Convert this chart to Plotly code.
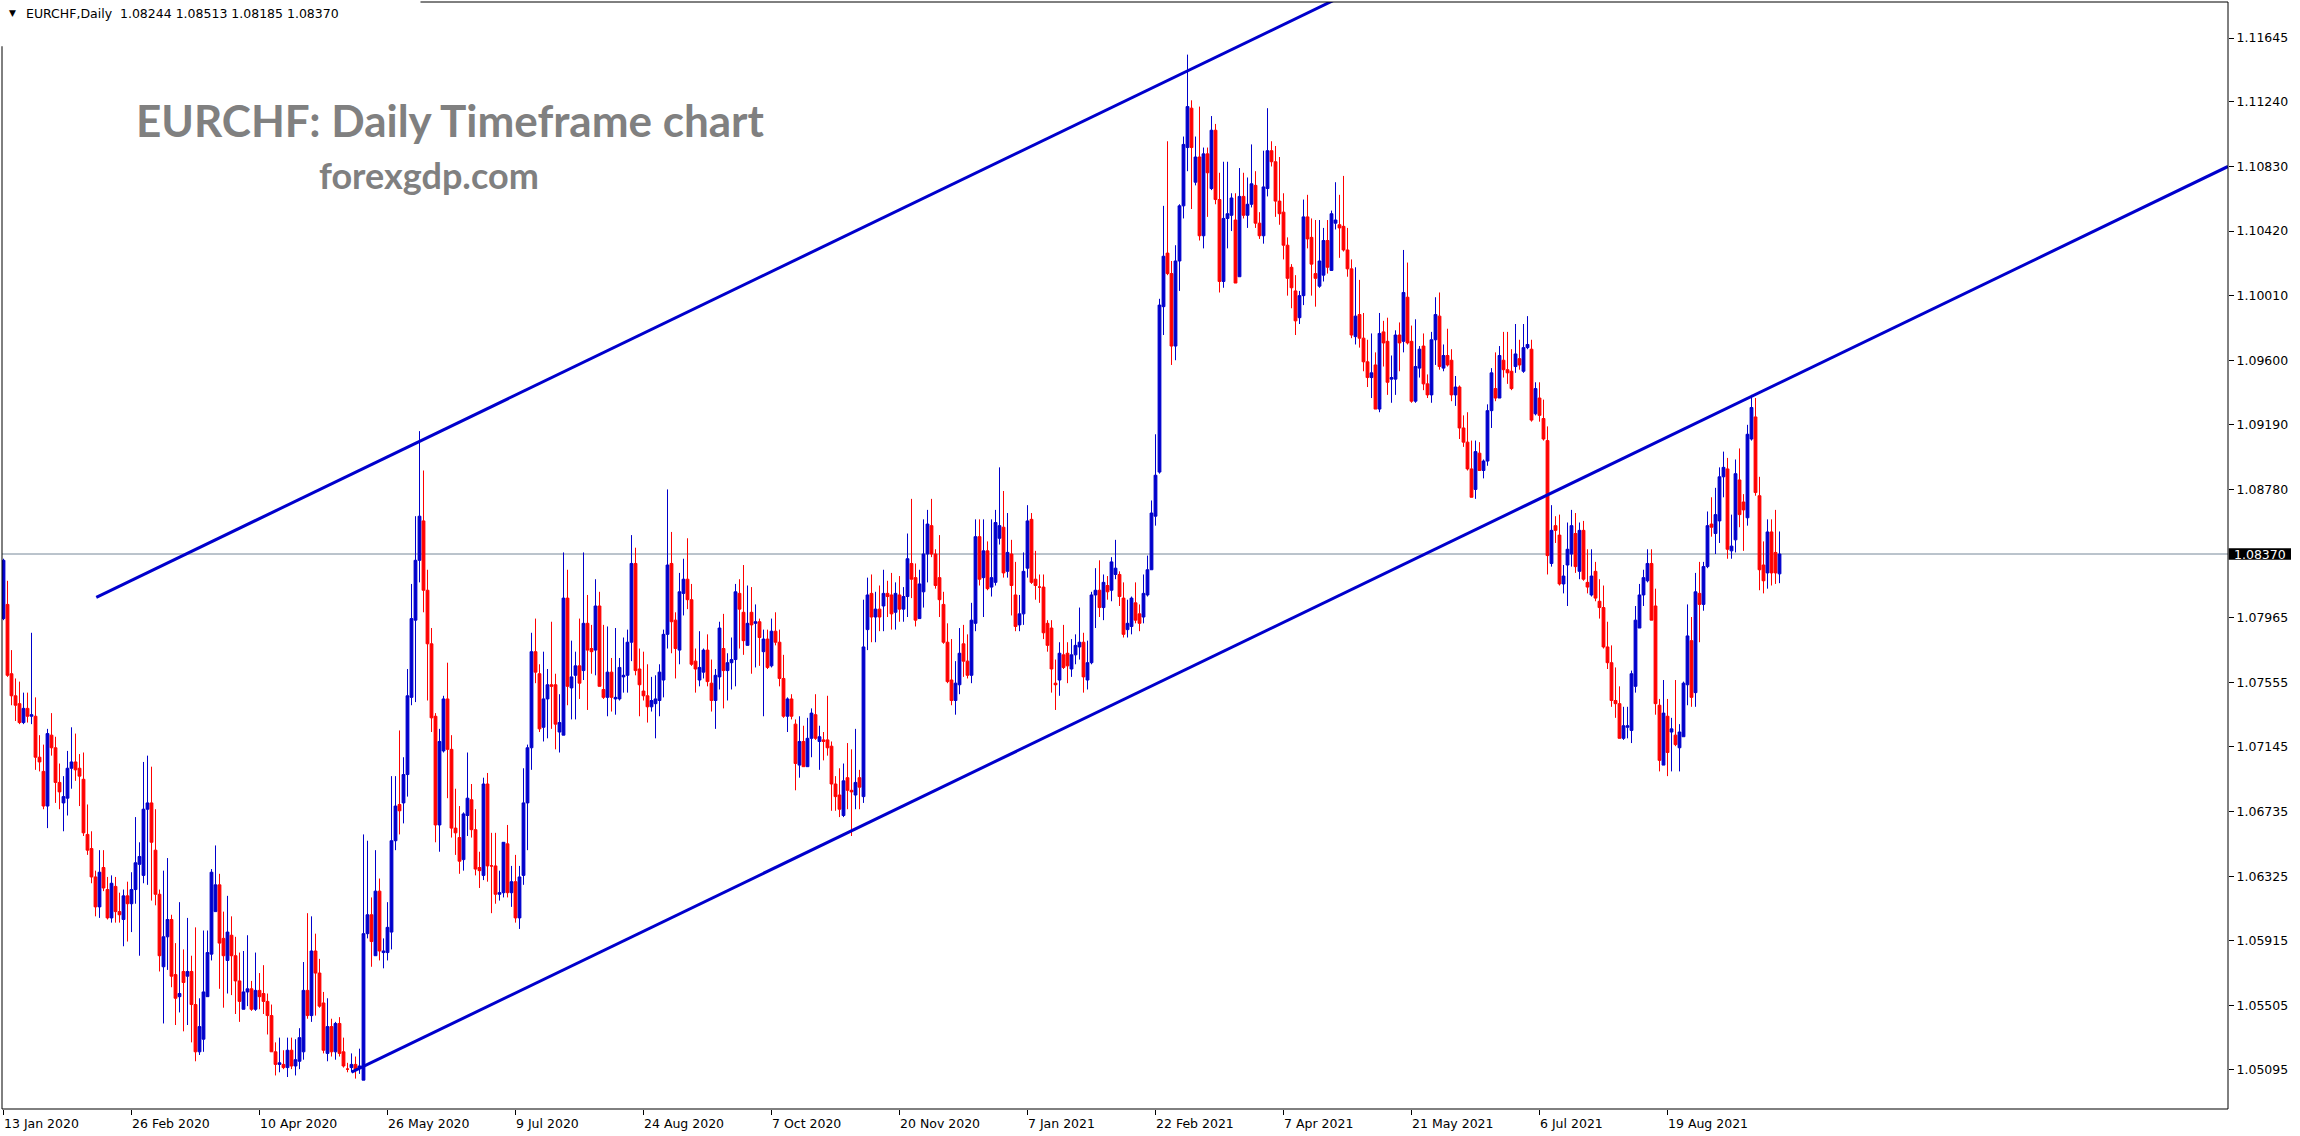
import plotly.graph_objects as go
import pandas as pd

# ---------------- data ----------------
symbol_header = "EURCHF,Daily  1.08244 1.08513 1.08185 1.08370"
title_text = "EURCHF: Daily Timeframe chart"
site_text = "forexgdp.com"
last_price = 1.08370

dates = pd.bdate_range("2020-01-13", "2021-09-28", freq="C",
                       holidays=["2020-12-25", "2021-01-01"])

opens = [
    1.0796, 1.0805, 1.0761, 1.0747, 1.0742, 1.0730, 1.0739, 1.0734, 1.0734, 1.0708,
    1.0699, 1.0677, 1.0722, 1.0714, 1.0692, 1.0679, 1.0682, 1.0701, 1.0705, 1.0701,
    1.0694, 1.0659, 1.0650, 1.0632, 1.0613, 1.0638, 1.0624, 1.0606, 1.0626, 1.0610,
    1.0605, 1.0620, 1.0615, 1.0624, 1.0640, 1.0633, 1.0675, 1.0679, 1.0649, 1.0621,
    1.0575, 1.0594, 1.0605, 1.0570, 1.0556, 1.0572, 1.0569, 1.0572, 1.0551, 1.0521,
    1.0529, 1.0556, 1.0583, 1.0610, 1.0627, 1.0593, 1.0579, 1.0595, 1.0582, 1.0566,
    1.0548, 1.0559, 1.0561, 1.0548, 1.0560, 1.0558, 1.0553, 1.0544, 1.0521, 1.0513,
    1.0513, 1.0511, 1.0522, 1.0512, 1.0515, 1.0521, 1.0560, 1.0544, 1.0585, 1.0571,
    1.0552, 1.0520, 1.0537, 1.0521, 1.0539, 1.0521, 1.0510, 1.0511, 1.0513, 1.0511,
    1.0503, 1.0596, 1.0608, 1.0582, 1.0623, 1.0584, 1.0584, 1.0597, 1.0655, 1.0678,
    1.0679, 1.0697, 1.0746, 1.0795, 1.0833, 1.0858, 1.0814, 1.0780, 1.0734, 1.0665,
    1.0712, 1.0745, 1.0713, 1.0663, 1.0657, 1.0643, 1.0671, 1.0681, 1.0662, 1.0638,
    1.0633, 1.0691, 1.0639, 1.0639, 1.0621, 1.0622, 1.0653, 1.0622, 1.0629, 1.0606,
    1.0633, 1.0679, 1.0714, 1.0775, 1.0761, 1.0727, 1.0745, 1.0754, 1.0754, 1.0724,
    1.0722, 1.0809, 1.0752, 1.0760, 1.0766, 1.0763, 1.0793, 1.0777, 1.0776, 1.0804,
    1.0751, 1.0746, 1.0762, 1.0745, 1.0745, 1.0759, 1.0760, 1.0781, 1.0831, 1.0764,
    1.0750, 1.0747, 1.0740, 1.0742, 1.0744, 1.0757, 1.0786, 1.0831, 1.0795, 1.0776,
    1.0812, 1.0821, 1.0808, 1.0769, 1.0757, 1.0762, 1.0776, 1.0755, 1.0744, 1.0759,
    1.0777, 1.0763, 1.0768, 1.0770, 1.0812, 1.0800, 1.0779, 1.0800, 1.0793, 1.0794,
    1.0775, 1.0783, 1.0766, 1.0788, 1.0781, 1.0758, 1.0734, 1.0745, 1.0729, 1.0703,
    1.0718, 1.0702, 1.0720, 1.0735, 1.0718, 1.0719, 1.0719, 1.0715, 1.0691, 1.0684,
    1.0671, 1.0695, 1.0687, 1.0684, 1.0695, 1.0683, 1.0789, 1.0812, 1.0797, 1.0802,
    1.0804, 1.0812, 1.0811, 1.0800, 1.0811, 1.0802, 1.0810, 1.0831, 1.0822, 1.0796,
    1.0813, 1.0837, 1.0855, 1.0837, 1.0822, 1.0805, 1.0781, 1.0757, 1.0744, 1.0754,
    1.0780, 1.0769, 1.0760, 1.0793, 1.0848, 1.0822, 1.0839, 1.0816, 1.0819, 1.0847,
    1.0854, 1.0826, 1.0837, 1.0811, 1.0792, 1.0799, 1.0828, 1.0859, 1.0821, 1.0816,
    1.0816, 1.0793, 1.0790, 1.0755, 1.0757, 1.0773, 1.0774, 1.0764, 1.0773, 1.0778,
    1.0781, 1.0757, 1.0768, 1.0811, 1.0814, 1.0803, 1.0817, 1.0814, 1.0824, 1.0824,
    1.0809, 1.0789, 1.0791, 1.0806, 1.0799, 1.0797, 1.0811, 1.0827, 1.0861, 1.0889,
    1.0994, 1.1028, 1.1015, 1.0969, 1.1023, 1.1058, 1.1095, 1.1120, 1.1073, 1.1089,
    1.1039, 1.1091, 1.1069, 1.1106, 1.1062, 1.1010, 1.1050, 1.1052, 1.1049, 1.1013,
    1.1064, 1.1052, 1.1059, 1.1071, 1.1047, 1.1039, 1.1069, 1.1093, 1.1086, 1.1061,
    1.1054, 1.1033, 1.1019, 1.1004, 1.0987, 1.1001, 1.1051, 1.1038, 1.1015, 1.1007,
    1.1014, 1.1036, 1.1017, 1.1047, 1.1046, 1.1045, 1.1030, 1.1018, 1.0975, 1.0989,
    1.0974, 1.0959, 1.0949, 1.0957, 1.0929, 1.0978, 1.0972, 1.0948, 1.0948, 1.0976,
    1.0972, 1.1000, 1.0972, 1.0934, 1.0955, 1.0969, 1.0945, 1.0938, 1.0973, 1.0988,
    1.0955, 1.0963, 1.0960, 1.0938, 1.0943, 1.0917, 1.0908, 1.0891, 1.0878, 1.0901,
    1.0890, 1.0896, 1.0928, 1.0942, 1.0936, 1.0960, 1.0954, 1.0953, 1.0956, 1.0961,
    1.0953, 1.0968, 1.0967, 1.0926, 1.0936, 1.0923, 1.0909, 1.0831, 1.0855, 1.0849,
    1.0818, 1.0830, 1.0837, 1.0850, 1.0826, 1.0852, 1.0819, 1.0811, 1.0826, 1.0807,
    1.0803, 1.0778, 1.0768, 1.0744, 1.0742, 1.0720, 1.0727, 1.0725, 1.0753, 1.0790,
    1.0811, 1.0820, 1.0831, 1.0804, 1.0741, 1.0703, 1.0734, 1.0724, 1.0722, 1.0714,
    1.0721, 1.0754, 1.0782, 1.0749, 1.0812, 1.0805, 1.0829, 1.0856, 1.0850, 1.0858,
    1.0886, 1.0891, 1.0839, 1.0846, 1.0884, 1.0870, 1.0860, 1.0910, 1.0924, 1.0874,
    1.0830, 1.0825, 1.0851, 1.0838, 1.08244,
]

highs = [
    1.0834, 1.0820, 1.0776, 1.0758, 1.0756, 1.0749, 1.0749, 1.0787, 1.0746, 1.0722,
    1.0716, 1.0726, 1.0736, 1.0721, 1.0704, 1.0696, 1.0712, 1.0727, 1.0723, 1.0710,
    1.0711, 1.0678, 1.0661, 1.0636, 1.0649, 1.0649, 1.0632, 1.0633, 1.0632, 1.0622,
    1.0624, 1.0629, 1.0635, 1.0670, 1.0654, 1.0705, 1.0709, 1.0702, 1.0675, 1.0624,
    1.0636, 1.0644, 1.0608, 1.0590, 1.0616, 1.0586, 1.0606, 1.0582, 1.0600, 1.0555,
    1.0598, 1.0598, 1.0637, 1.0652, 1.0634, 1.0610, 1.0620, 1.0607, 1.0594, 1.0584,
    1.0585, 1.0595, 1.0566, 1.0584, 1.0571, 1.0576, 1.0558, 1.0551, 1.0527, 1.0530,
    1.0522, 1.0530, 1.0530, 1.0529, 1.0536, 1.0578, 1.0609, 1.0607, 1.0596, 1.0580,
    1.0559, 1.0555, 1.0542, 1.0540, 1.0543, 1.0530, 1.0514, 1.0520, 1.0518, 1.0523,
    1.0659, 1.0655, 1.0619, 1.0649, 1.0631, 1.0593, 1.0616, 1.0696, 1.0696, 1.0725,
    1.0708, 1.0764, 1.0818, 1.0861, 1.0915, 1.0890, 1.0827, 1.0790, 1.0736, 1.0726,
    1.0747, 1.0768, 1.0722, 1.0688, 1.0677, 1.0673, 1.0711, 1.0691, 1.0675, 1.0648,
    1.0695, 1.0698, 1.0660, 1.0660, 1.0636, 1.0654, 1.0665, 1.0639, 1.0646, 1.0639,
    1.0701, 1.0716, 1.0787, 1.0796, 1.0767, 1.0775, 1.0764, 1.0794, 1.0761, 1.0748,
    1.0838, 1.0827, 1.0782, 1.0775, 1.0796, 1.0838, 1.0811, 1.0792, 1.0821, 1.0813,
    1.0792, 1.0791, 1.0771, 1.0790, 1.0771, 1.0784, 1.0789, 1.0849, 1.0841, 1.0777,
    1.0775, 1.0767, 1.0759, 1.0760, 1.0767, 1.0789, 1.0878, 1.0851, 1.0800, 1.0825,
    1.0834, 1.0847, 1.0818, 1.0777, 1.0788, 1.0777, 1.0786, 1.0770, 1.0764, 1.0794,
    1.0799, 1.0774, 1.0784, 1.0818, 1.0821, 1.0830, 1.0817, 1.0816, 1.0805, 1.0796,
    1.0789, 1.0789, 1.0796, 1.0800, 1.0789, 1.0773, 1.0746, 1.0748, 1.0732, 1.0734,
    1.0728, 1.0733, 1.0739, 1.0748, 1.0728, 1.0724, 1.0747, 1.0718, 1.0696, 1.0701,
    1.0704, 1.0717, 1.0713, 1.0726, 1.0700, 1.0808, 1.0822, 1.0824, 1.0813, 1.0817,
    1.0827, 1.0820, 1.0825, 1.0819, 1.0823, 1.0816, 1.0850, 1.0872, 1.0831, 1.0827,
    1.0859, 1.0865, 1.0872, 1.0840, 1.0849, 1.0813, 1.0793, 1.0783, 1.0769, 1.0790,
    1.0792, 1.0786, 1.0806, 1.0859, 1.0859, 1.0859, 1.0845, 1.0859, 1.0865, 1.0892,
    1.0877, 1.0863, 1.0846, 1.0832, 1.0811, 1.0838, 1.0868, 1.0863, 1.0839, 1.0824,
    1.0824, 1.0795, 1.0795, 1.0770, 1.0781, 1.0792, 1.0781, 1.0783, 1.0786, 1.0803,
    1.0787, 1.0782, 1.0813, 1.0828, 1.0833, 1.0824, 1.0823, 1.0835, 1.0846, 1.0826,
    1.0819, 1.0808, 1.0810, 1.0819, 1.0805, 1.0824, 1.0836, 1.0871, 1.0913, 1.0999,
    1.1058, 1.1099, 1.1023, 1.1033, 1.1059, 1.1102, 1.1154, 1.1125, 1.1102, 1.1121,
    1.1095, 1.1095, 1.1115, 1.1110, 1.1079, 1.1086, 1.1086, 1.1066, 1.1066, 1.1082,
    1.1079, 1.1076, 1.1097, 1.1080, 1.1054, 1.1093, 1.1120, 1.1099, 1.1096, 1.1089,
    1.1066, 1.1038, 1.1021, 1.1014, 1.1004, 1.1062, 1.1065, 1.1050, 1.1049, 1.1049,
    1.1044, 1.1049, 1.1055, 1.1073, 1.1065, 1.1077, 1.1044, 1.1024, 1.1019, 1.1011,
    1.0990, 1.0973, 1.0977, 1.0965, 1.0990, 1.0985, 1.0987, 1.0963, 1.0979, 1.0984,
    1.1030, 1.1022, 1.0982, 1.0986, 1.0969, 1.0977, 1.0951, 1.0978, 1.1000, 1.1003,
    1.0970, 1.0980, 1.0967, 1.0950, 1.0944, 1.0925, 1.0927, 1.0909, 1.0909, 1.0908,
    1.0897, 1.0932, 1.0955, 1.0965, 1.0969, 1.0978, 1.0978, 1.0967, 1.0983, 1.0973,
    1.0983, 1.0988, 1.0973, 1.0946, 1.0946, 1.0935, 1.0918, 1.0868, 1.0861, 1.0862,
    1.0830, 1.0857, 1.0865, 1.0863, 1.0857, 1.0858, 1.0840, 1.0840, 1.0832, 1.0821,
    1.0817, 1.0794, 1.0779, 1.0765, 1.0753, 1.0740, 1.0740, 1.0763, 1.0804, 1.0818,
    1.0827, 1.0840, 1.0840, 1.0815, 1.0745, 1.0757, 1.0745, 1.0733, 1.0757, 1.0729,
    1.0756, 1.0805, 1.0797, 1.0825, 1.0832, 1.0832, 1.0864, 1.0873, 1.0879, 1.0892,
    1.0902, 1.0898, 1.0862, 1.0897, 1.0904, 1.0875, 1.0919, 1.0938, 1.0936, 1.0886,
    1.0845, 1.0859, 1.0859, 1.0865, 1.08513,
]

lows = [
    1.0795, 1.0759, 1.0741, 1.0731, 1.0729, 1.0729, 1.0730, 1.0729, 1.0700, 1.0699,
    1.0675, 1.0663, 1.0709, 1.0679, 1.0675, 1.0661, 1.0671, 1.0688, 1.0693, 1.0677,
    1.0658, 1.0646, 1.0628, 1.0607, 1.0606, 1.0623, 1.0605, 1.0603, 1.0603, 1.0603,
    1.0588, 1.0591, 1.0597, 1.0615, 1.0582, 1.0628, 1.0627, 1.0617, 1.0614, 1.0572,
    1.0539, 1.0573, 1.0562, 1.0538, 1.0546, 1.0534, 1.0538, 1.0527, 1.0515, 1.0519,
    1.0521, 1.0556, 1.0579, 1.0610, 1.0561, 1.0549, 1.0558, 1.0557, 1.0545, 1.0540,
    1.0548, 1.0550, 1.0547, 1.0547, 1.0548, 1.0545, 1.0532, 1.0521, 1.0506, 1.0508,
    1.0510, 1.0505, 1.0510, 1.0506, 1.0510, 1.0516, 1.0542, 1.0540, 1.0544, 1.0549,
    1.0520, 1.0515, 1.0518, 1.0516, 1.0518, 1.0511, 1.0508, 1.0508, 1.0504, 1.0507,
    1.0503, 1.0593, 1.0575, 1.0582, 1.0579, 1.0574, 1.0579, 1.0586, 1.0649, 1.0659,
    1.0666, 1.0683, 1.0741, 1.0743, 1.0819, 1.0800, 1.0744, 1.0724, 1.0654, 1.0648,
    1.0711, 1.0682, 1.0657, 1.0646, 1.0634, 1.0636, 1.0658, 1.0657, 1.0633, 1.0625,
    1.0630, 1.0629, 1.0609, 1.0615, 1.0617, 1.0619, 1.0619, 1.0613, 1.0603, 1.0599,
    1.0627, 1.0649, 1.0700, 1.0755, 1.0724, 1.0718, 1.0720, 1.0726, 1.0713, 1.0711,
    1.0722, 1.0741, 1.0732, 1.0732, 1.0745, 1.0757, 1.0738, 1.0761, 1.0760, 1.0753,
    1.0745, 1.0734, 1.0737, 1.0735, 1.0744, 1.0749, 1.0749, 1.0769, 1.0760, 1.0734,
    1.0744, 1.0730, 1.0737, 1.0720, 1.0734, 1.0746, 1.0777, 1.0774, 1.0758, 1.0767,
    1.0798, 1.0802, 1.0766, 1.0749, 1.0753, 1.0758, 1.0753, 1.0737, 1.0726, 1.0751,
    1.0739, 1.0744, 1.0751, 1.0753, 1.0777, 1.0773, 1.0779, 1.0761, 1.0765, 1.0766,
    1.0734, 1.0764, 1.0765, 1.0779, 1.0753, 1.0733, 1.0724, 1.0732, 1.0687, 1.0695,
    1.0702, 1.0702, 1.0708, 1.0719, 1.0700, 1.0706, 1.0709, 1.0674, 1.0674, 1.0670,
    1.0670, 1.0675, 1.0658, 1.0675, 1.0675, 1.0679, 1.0776, 1.0781, 1.0781, 1.0788,
    1.0788, 1.0797, 1.0789, 1.0789, 1.0794, 1.0794, 1.0797, 1.0809, 1.0791, 1.0796,
    1.0803, 1.0819, 1.0835, 1.0815, 1.0797, 1.0780, 1.0755, 1.0741, 1.0735, 1.0748,
    1.0759, 1.0758, 1.0755, 1.0788, 1.0817, 1.0797, 1.0814, 1.0810, 1.0817, 1.0843,
    1.0822, 1.0822, 1.0798, 1.0788, 1.0788, 1.0792, 1.0822, 1.0818, 1.0808, 1.0806,
    1.0783, 1.0775, 1.0749, 1.0738, 1.0747, 1.0764, 1.0755, 1.0759, 1.0767, 1.0770,
    1.0749, 1.0751, 1.0767, 1.0790, 1.0797, 1.0795, 1.0808, 1.0807, 1.0821, 1.0804,
    1.0784, 1.0784, 1.0786, 1.0793, 1.0788, 1.0793, 1.0810, 1.0827, 1.0855, 1.0888,
    1.0976, 1.1014, 1.0957, 1.0960, 1.1004, 1.1050, 1.1080, 1.1056, 1.1071, 1.1036,
    1.1031, 1.1051, 1.1068, 1.1059, 1.1003, 1.1006, 1.1031, 1.1042, 1.1009, 1.1013,
    1.1050, 1.1044, 1.1057, 1.1044, 1.1037, 1.1034, 1.1064, 1.1083, 1.1051, 1.1046,
    1.1024, 1.1001, 1.0993, 1.0976, 1.0983, 1.0995, 1.1031, 1.1001, 1.0994, 1.1006,
    1.1010, 1.1015, 1.1017, 1.1043, 1.1025, 1.1029, 1.1013, 1.0974, 1.0970, 1.0968,
    1.0953, 1.0943, 1.0936, 1.0929, 1.0927, 1.0956, 1.0938, 1.0933, 1.0938, 1.0953,
    1.0965, 1.0970, 1.0933, 1.0933, 1.0949, 1.0941, 1.0936, 1.0933, 1.0957, 1.0954,
    1.0953, 1.0956, 1.0934, 1.0931, 1.0910, 1.0905, 1.0890, 1.0873, 1.0872, 1.0890,
    1.0885, 1.0893, 1.0917, 1.0934, 1.0936, 1.0949, 1.0945, 1.0941, 1.0952, 1.0954,
    1.0952, 1.0967, 1.0921, 1.0925, 1.0921, 1.0909, 1.0824, 1.0829, 1.0844, 1.0817,
    1.0812, 1.0804, 1.0829, 1.0825, 1.0821, 1.0820, 1.0812, 1.0810, 1.0807, 1.0796,
    1.0777, 1.0764, 1.0740, 1.0733, 1.0720, 1.0719, 1.0720, 1.0717, 1.0749, 1.0790,
    1.0804, 1.0819, 1.0795, 1.0735, 1.0699, 1.0703, 1.0696, 1.0699, 1.0715, 1.0699,
    1.0721, 1.0741, 1.0740, 1.0740, 1.0781, 1.0801, 1.0828, 1.0848, 1.0837, 1.0844,
    1.0873, 1.0834, 1.0834, 1.0838, 1.0854, 1.0839, 1.0855, 1.0909, 1.0874, 1.0814,
    1.0812, 1.0815, 1.0817, 1.0818, 1.08185,
]

closes = [
    1.0833, 1.0760, 1.0747, 1.0741, 1.0730, 1.0739, 1.0734, 1.0735, 1.0708, 1.0705,
    1.0677, 1.0723, 1.0714, 1.0692, 1.0686, 1.0683, 1.0701, 1.0705, 1.0700, 1.0696,
    1.0660, 1.0649, 1.0632, 1.0613, 1.0635, 1.0625, 1.0606, 1.0628, 1.0610, 1.0608,
    1.0620, 1.0615, 1.0624, 1.0641, 1.0645, 1.0675, 1.0679, 1.0654, 1.0621, 1.0582,
    1.0594, 1.0605, 1.0569, 1.0555, 1.0558, 1.0565, 1.0572, 1.0551, 1.0521, 1.0537,
    1.0559, 1.0584, 1.0635, 1.0627, 1.0590, 1.0582, 1.0597, 1.0582, 1.0566, 1.0553,
    1.0559, 1.0561, 1.0548, 1.0560, 1.0556, 1.0553, 1.0544, 1.0521, 1.0513, 1.0514,
    1.0511, 1.0522, 1.0512, 1.0516, 1.0530, 1.0560, 1.0544, 1.0585, 1.0571, 1.0550,
    1.0522, 1.0537, 1.0521, 1.0539, 1.0520, 1.0512, 1.0510, 1.0513, 1.0510, 1.0512,
    1.0596, 1.0608, 1.0591, 1.0623, 1.0585, 1.0585, 1.0600, 1.0655, 1.0677, 1.0674,
    1.0697, 1.0747, 1.0796, 1.0833, 1.0861, 1.0814, 1.0780, 1.0733, 1.0665, 1.0718,
    1.0745, 1.0713, 1.0663, 1.0660, 1.0642, 1.0672, 1.0682, 1.0662, 1.0637, 1.0636,
    1.0691, 1.0639, 1.0639, 1.0621, 1.0622, 1.0654, 1.0622, 1.0629, 1.0606, 1.0632,
    1.0679, 1.0714, 1.0775, 1.0762, 1.0726, 1.0745, 1.0754, 1.0753, 1.0729, 1.0730,
    1.0809, 1.0753, 1.0759, 1.0766, 1.0755, 1.0793, 1.0776, 1.0775, 1.0804, 1.0753,
    1.0746, 1.0762, 1.0746, 1.0746, 1.0765, 1.0760, 1.0781, 1.0831, 1.0763, 1.0754,
    1.0747, 1.0740, 1.0744, 1.0745, 1.0762, 1.0786, 1.0830, 1.0794, 1.0777, 1.0813,
    1.0821, 1.0808, 1.0767, 1.0764, 1.0765, 1.0776, 1.0756, 1.0744, 1.0760, 1.0790,
    1.0763, 1.0768, 1.0770, 1.0813, 1.0802, 1.0782, 1.0793, 1.0792, 1.0794, 1.0784,
    1.0783, 1.0765, 1.0788, 1.0781, 1.0758, 1.0734, 1.0745, 1.0734, 1.0704, 1.0718,
    1.0702, 1.0720, 1.0736, 1.0720, 1.0721, 1.0718, 1.0714, 1.0691, 1.0683, 1.0675,
    1.0693, 1.0687, 1.0686, 1.0692, 1.0689, 1.0778, 1.0811, 1.0797, 1.0802, 1.0797,
    1.0812, 1.0810, 1.0799, 1.0812, 1.0802, 1.0810, 1.0834, 1.0821, 1.0795, 1.0818,
    1.0837, 1.0856, 1.0837, 1.0817, 1.0808, 1.0781, 1.0756, 1.0744, 1.0755, 1.0774,
    1.0769, 1.0760, 1.0795, 1.0848, 1.0821, 1.0839, 1.0815, 1.0822, 1.0857, 1.0855,
    1.0825, 1.0838, 1.0817, 1.0791, 1.0799, 1.0826, 1.0858, 1.0819, 1.0817, 1.0816,
    1.0787, 1.0779, 1.0764, 1.0754, 1.0774, 1.0765, 1.0766, 1.0773, 1.0779, 1.0781,
    1.0759, 1.0768, 1.0811, 1.0814, 1.0803, 1.0819, 1.0813, 1.0832, 1.0828, 1.0810,
    1.0786, 1.0793, 1.0809, 1.0795, 1.0793, 1.0812, 1.0827, 1.0863, 1.0887, 1.0995,
    1.1026, 1.1015, 1.0969, 1.1023, 1.1058, 1.1097, 1.1121, 1.1095, 1.1089, 1.1039,
    1.1091, 1.1079, 1.1106, 1.1062, 1.1010, 1.1050, 1.1053, 1.1063, 1.1009, 1.1064,
    1.1052, 1.1059, 1.1072, 1.1047, 1.1039, 1.1070, 1.1093, 1.1086, 1.1061, 1.1053,
    1.1033, 1.1012, 1.1006, 1.0985, 1.1001, 1.1051, 1.1037, 1.1021, 1.1012, 1.1023,
    1.1036, 1.1019, 1.1053, 1.1049, 1.1044, 1.1030, 1.1018, 1.0976, 1.0988, 1.0974,
    1.0959, 1.0949, 1.0952, 1.0929, 1.0977, 1.0971, 1.0946, 1.0949, 1.0976, 1.0971,
    1.1003, 1.0971, 1.0934, 1.0956, 1.0967, 1.0945, 1.0938, 1.0973, 1.0989, 1.0956,
    1.0963, 1.0957, 1.0938, 1.0943, 1.0917, 1.0908, 1.0891, 1.0873, 1.0902, 1.0890,
    1.0896, 1.0928, 1.0952, 1.0936, 1.0963, 1.0954, 1.0952, 1.0942, 1.0964, 1.0957,
    1.0968, 1.0970, 1.0922, 1.0942, 1.0925, 1.0910, 1.0836, 1.0852, 1.0852, 1.0818,
    1.0823, 1.0840, 1.0855, 1.0829, 1.0852, 1.0821, 1.0816, 1.0823, 1.0809, 1.0803,
    1.0778, 1.0768, 1.0744, 1.0742, 1.0720, 1.0728, 1.0728, 1.0761, 1.0795, 1.0811,
    1.0822, 1.0831, 1.0795, 1.0742, 1.0706, 1.0736, 1.0711, 1.0726, 1.0716, 1.0724,
    1.0755, 1.0785, 1.0746, 1.0813, 1.0805, 1.0829, 1.0855, 1.0854, 1.0862, 1.0886,
    1.0892, 1.0840, 1.0842, 1.0888, 1.0862, 1.0865, 1.0913, 1.0930, 1.0876, 1.0827,
    1.0820, 1.0851, 1.0825, 1.0825, 1.08370,
]

# x-axis labels (every 32 bars) and y-axis labels
date_tick_bars = [0, 32, 64, 96, 128, 160, 192, 224, 256, 288, 320, 352, 384, 416]
date_tick_labels = ["13 Jan 2020", "26 Feb 2020", "10 Apr 2020", "26 May 2020",
                    "9 Jul 2020", "24 Aug 2020", "7 Oct 2020", "20 Nov 2020",
                    "7 Jan 2021", "22 Feb 2021", "7 Apr 2021", "21 May 2021",
                    "6 Jul 2021", "19 Aug 2021"]
price_ticks = [1.11645, 1.11240, 1.10830, 1.10420, 1.10010, 1.09600, 1.09190,
               1.08780, 1.07965, 1.07555, 1.07145, 1.06735, 1.06325, 1.05915,
               1.05505, 1.05095]
price_tick_labels = ["%.5f" % v for v in price_ticks]

# trend-line anchor points (bar index, price)
upper_trend_bars = [23.2, 340.0]
upper_trend_prices = [1.08095, 1.11976]
lower_trend_bars = [87.0, 556.125]
lower_trend_prices = [1.05081, 1.10830]

# ---------------- figure ----------------
BLUE = "#0000CC"
RED = "#FF0000"
FONT = "DejaVu Sans"

bars = list(range(len(opens)))
date_text = [d.strftime("%Y.%m.%d") for d in dates[:len(opens)]]

fig = go.Figure()
fig.add_trace(go.Candlestick(
    x=bars, open=opens, high=highs, low=lows, close=closes,
    text=date_text,
    increasing=dict(line=dict(color=BLUE, width=1), fillcolor=BLUE),
    decreasing=dict(line=dict(color=RED, width=1), fillcolor=RED),
    whiskerwidth=0, hoverinfo="skip", showlegend=False,
))
fig.add_trace(go.Scatter(x=upper_trend_bars, y=upper_trend_prices, mode="lines",
                         line=dict(color=BLUE, width=3), hoverinfo="skip",
                         showlegend=False))
fig.add_trace(go.Scatter(x=lower_trend_bars, y=lower_trend_prices, mode="lines",
                         line=dict(color=BLUE, width=3), hoverinfo="skip",
                         showlegend=False))

X_RANGE = [-0.375, 556.125]
Y_RANGE = [1.04847, 1.11874]

shapes = [
    # current price line
    dict(type="line", xref="paper", x0=0, x1=1, yref="y", y0=last_price, y1=last_price,
         line=dict(color="#778899", width=1), layer="below"),
    # chart frame
    dict(type="rect", xref="paper", x0=0, x1=1, yref="paper", y0=0, y1=1,
         line=dict(color="black", width=1), fillcolor="rgba(0,0,0,0)", layer="above"),
    # header background
    dict(type="rect", xref="paper", x0=-0.002, x1=0.188, yref="paper", y0=0.96, y1=1.01,
         line=dict(width=0), fillcolor="white", layer="above"),
    # current price box on axis
    dict(type="rect", xref="paper", x0=1.0003, x1=1.0283, yref="y",
         y0=last_price - 0.00036, y1=last_price + 0.00036,
         line=dict(width=0), fillcolor="black", layer="above"),
]

annotations = []
for b, lbl in zip(date_tick_bars, date_tick_labels):
    annotations.append(dict(x=b, y=0, xref="x", yref="paper", text=lbl, showarrow=False,
                            xanchor="left", yanchor="top", xshift=-2, yshift=-5,
                            font=dict(family=FONT, size=12.5, color="black")))
annotations += [
    dict(x=1, y=last_price, xref="paper", yref="y", text="%.5f" % last_price,
         showarrow=False, xanchor="left", yanchor="middle", xshift=4,
         font=dict(family=FONT, size=12.5, color="white")),
    dict(x=0.0022, y=0.9900, xref="paper", yref="paper", text="\u25BC", showarrow=False,
         xanchor="left", yanchor="middle", font=dict(family=FONT, size=9, color="black")),
    dict(x=0.0100, y=0.9900, xref="paper", yref="paper", text=symbol_header,
         showarrow=False, xanchor="left", yanchor="middle",
         font=dict(family=FONT, size=12.5, color="black")),
    dict(x=0.2013, y=0.8930, xref="paper", yref="paper", text="<b>%s</b>" % title_text,
         showarrow=False, xanchor="center", yanchor="middle",
         font=dict(family="Lato", size=44, color="#808080")),
    dict(x=0.1920, y=0.8440, xref="paper", yref="paper", text="<b>%s</b>" % site_text,
         showarrow=False, xanchor="center", yanchor="middle",
         font=dict(family="Lato", size=36, color="#808080")),
]

fig.update_layout(
    width=2300, height=1136,
    margin=dict(l=2, r=72, t=2, b=27, pad=0),
    paper_bgcolor="white", plot_bgcolor="white",
    showlegend=False, hovermode=False, boxgap=0.0,
    font=dict(family=FONT, color="black"),
    xaxis=dict(range=X_RANGE, rangeslider=dict(visible=False), showgrid=False,
               zeroline=False, showline=False, tickmode="array",
               tickvals=date_tick_bars, ticktext=[""] * len(date_tick_bars),
               ticks="outside", ticklen=5, tickcolor="black", tickwidth=1,
               showticklabels=False, automargin=False, fixedrange=True),
    yaxis=dict(range=Y_RANGE, side="right", showgrid=False, zeroline=False,
               showline=False, tickmode="array", tickvals=price_ticks,
               ticktext=price_tick_labels, ticks="outside", ticklen=5,
               tickcolor="black", tickwidth=1,
               tickfont=dict(family=FONT, size=12.5, color="black"),
               automargin=False, fixedrange=True),
    shapes=shapes,
    annotations=annotations,
)

fig.write_html(
    "out.html",
    config={"displayModeBar": False, "staticPlot": True},
    post_script="document.body.style.margin='0';document.body.style.padding='0';"
                "document.body.style.overflow='hidden';",
)
